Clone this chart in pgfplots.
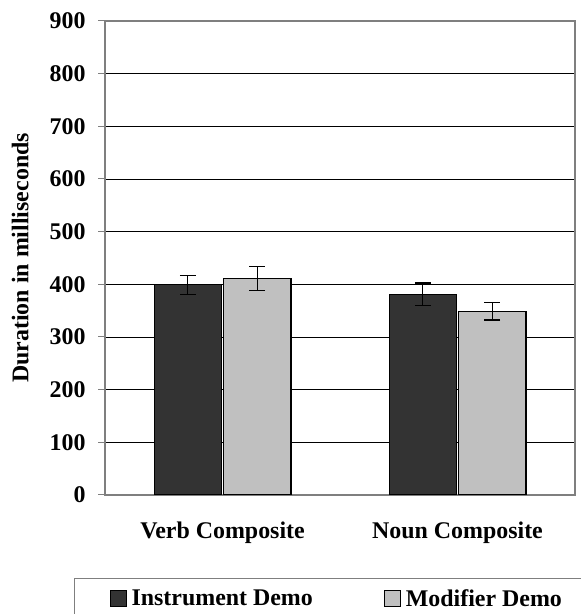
\documentclass[border=0pt]{standalone}
\usepackage{fontspec}
\setmainfont{Liberation Serif}
\usepackage{pgfplots}
\pgfplotsset{compat=1.18}
\definecolor{darkbar}{HTML}{333333}
\definecolor{lightbar}{HTML}{C0C0C0}
\definecolor{axgrey}{HTML}{7F7F7F}
\begin{document}
\begin{tikzpicture}[x=1bp,y=1bp]
\useasboundingbox (0,0) rectangle (581,614);
\begin{axis}[
  at={(105bp,119bp)}, anchor=south west,
  scale only axis, width=470bp, height=474bp,
  xmin=-0.5, xmax=1.5, ymin=0, ymax=900,
  ytick={0,100,...,900},
  xtick={0,1},
  xticklabels={Verb Composite, Noun Composite},
  x tick style={draw=none},
  extra x ticks={-0.5,0.5,1.5},
  extra x tick labels={},
  extra x tick style={major tick length=8bp, tick align=outside, tick style={draw=axgrey, line width=1pt}, grid=none},
  xtick pos=bottom, ytick pos=left,
  ymajorgrids,
  major grid style={black, line width=0.9pt},
  y tick style={draw=axgrey, line width=1pt},
  tick align=outside, major tick length=7bp,
  axis line style={draw=axgrey, line width=1.2pt},
  /pgf/number format/assume math mode=true,
  ticklabel style={font=\fontsize{24}{27}\selectfont\bfseries},
  xticklabel style={yshift=-16bp},
  yticklabel style={xshift=-9bp},
  ylabel={Duration in milliseconds},
  ylabel style={font=\fontsize{24}{27}\selectfont\bfseries},
  ylabel shift=14bp,
  ybar, bar width=67.4bp,
  legend columns=2,
  legend style={at={(-0.0660,-0.175)}, anchor=north west, draw=axgrey, line width=1.2pt,
    font=\fontsize{24}{27}\selectfont\bfseries, inner xsep=35bp, inner ysep=9bp,
    nodes={inner xsep=5bp, inner ysep=2bp},
    /tikz/every even column/.append style={column sep=66bp}},
  legend image code/.code={\draw[#1, line width=1pt] (0bp,-8bp) rectangle (16bp,8bp);},
]
\addplot[fill=darkbar, draw=black, line width=1.2pt,
  error bars/.cd, y dir=both, y explicit,
  error mark options={rotate=90, mark size=8bp, line width=1.3pt, black},
  error bar style={line width=1.3pt, black}]
  coordinates {(0,399) +- (0,18) (1,381) +- (0,21.7)};
\addplot[fill=lightbar, draw=black, line width=1.2pt,
  error bars/.cd, y dir=both, y explicit,
  error mark options={rotate=90, mark size=8bp, line width=1.3pt, black},
  error bar style={line width=1.3pt, black}]
  coordinates {(0,411) +- (0,22.5) (1,348.7) +- (0,16.4)};
\legend{Instrument Demo, Modifier Demo}
\end{axis}
\end{tikzpicture}
\end{document}
